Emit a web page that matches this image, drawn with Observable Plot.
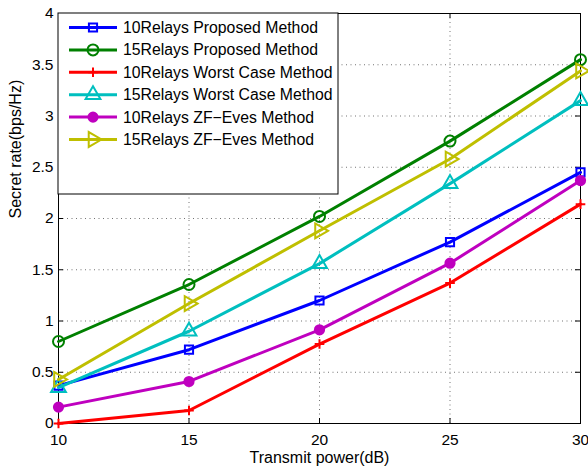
<!DOCTYPE html>
<html>
<head>
<meta charset="utf-8">
<script src="https://cdn.jsdelivr.net/npm/d3@7"></script>
<script src="https://cdn.jsdelivr.net/npm/@observablehq/plot@0.6"></script>
<style>
  html, body { margin: 0; padding: 0; background: white; }
  svg { display: block; }
</style>
</head>
<body>
<div id="chart"></div>
<script>
const powers = [10, 15, 20, 25, 30];
const seriesNames = [
  "10Relays Proposed Method",
  "15Relays Proposed Method",
  "10Relays Worst Case Method",
  "15Relays Worst Case Method",
  "10Relays ZF\u2212Eves Method",
  "15Relays ZF\u2212Eves Method"
];
const relays10Proposed = [0.37, 0.72, 1.20, 1.77, 2.45];
const relays15Proposed = [0.80, 1.356, 2.02, 2.755, 3.55];
const relays10Worst = [0.00, 0.127, 0.775, 1.37, 2.14];
const relays15Worst = [0.35, 0.90, 1.56, 2.34, 3.15];
const relays10ZF = [0.16, 0.41, 0.914, 1.564, 2.37];
const relays15ZF = [0.43, 1.17, 1.88, 2.58, 3.44];
const seriesValues = [relays10Proposed, relays15Proposed, relays10Worst, relays15Worst, relays10ZF, relays15ZF];
const colors = ["#0000ff", "#008000", "#ff0000", "#00bfbf", "#bf00bf", "#bfbf00"];
const symbols = ["square", "circle", "plus", "triangle", "circle", "triangle"];
const filled = [false, false, false, false, true, false];
const rotations = [0, 0, 0, 0, 0, 90];
const radii = [4.6, 5.5, 3.2, 5.5, 4.6, 5.5];
const xTicks = [10, 15, 20, 25, 30];
const yTicks = [0, 0.5, 1, 1.5, 2, 2.5, 3, 3.5, 4];
const xLabel = "Transmit power(dB)";
const yLabel = "Secret rate(bps/Hz)";

const rows = seriesNames.map((name, i) => powers.map((p, j) => ({series: i, name, x: p, y: seriesValues[i][j]})));

const d3Symbols = {square: d3.symbolSquare, circle: d3.symbolCircle, plus: d3.symbolPlus, triangle: d3.symbolTriangle};

function legendMark(index, scales, values, dimensions) {
  const g = d3.create("svg:g");
  const left = dimensions.marginLeft;
  const top = dimensions.marginTop;
  const w = 280, h = 181, rowH = 22.4;
  g.append("rect").attr("x", left).attr("y", top).attr("width", w).attr("height", h)
    .attr("fill", "white").attr("stroke", "black").attr("stroke-width", 1);
  seriesNames.forEach((name, i) => {
    const cy = top + 14.5 + i * rowH;
    g.append("line").attr("x1", left + 11).attr("x2", left + 59).attr("y1", cy).attr("y2", cy)
      .attr("stroke", colors[i]).attr("stroke-width", 3);
    g.append("path")
      .attr("d", d3.symbol(d3Symbols[symbols[i]], Math.PI * radii[i] * radii[i])())
      .attr("transform", `translate(${left + 35},${cy}) rotate(${rotations[i]})`)
      .attr("fill", filled[i] ? colors[i] : "none")
      .attr("stroke", colors[i]).attr("stroke-width", 2);
    g.append("text").attr("x", left + 65).attr("y", cy).attr("dy", "0.35em")
      .attr("text-anchor", "start")
      .attr("fill", "black").attr("font-size", 15.8).text(name);
  });
  return g.node();
}

const marks = [
  Plot.gridX(xTicks, {stroke: "#000", strokeOpacity: 0.55, strokeDasharray: "1,3.5", strokeWidth: 1}),
  Plot.gridY(yTicks, {stroke: "#000", strokeOpacity: 0.55, strokeDasharray: "1,3.5", strokeWidth: 1}),
  Plot.tickX(xTicks, {x: d => d, insetTop: 405, stroke: "black"}),
  Plot.tickX(xTicks, {x: d => d, insetBottom: 405, stroke: "black"}),
  Plot.tickY(yTicks, {y: d => d, insetRight: 517, stroke: "black"}),
  Plot.tickY(yTicks, {y: d => d, insetLeft: 517, stroke: "black"}),
  Plot.frame({stroke: "black", strokeWidth: 1}),
  Plot.axisX(xTicks, {tickSize: 0, tickPadding: 10, label: null, fontSize: 15.5}),
  Plot.axisY(yTicks, {tickSize: 0, tickPadding: 5, label: null, fontSize: 15.5, tickFormat: d => String(d)}),
  Plot.text([xLabel], {frameAnchor: "bottom", dy: 34, fontSize: 16, lineAnchor: "middle"}),
  Plot.text([yLabel], {frameAnchor: "left", dx: -43, rotate: -90, fontSize: 16, lineAnchor: "middle"})
];
rows.forEach((data, i) => {
  marks.push(Plot.line(data, {x: "x", y: "y", stroke: colors[i], strokeWidth: 3}));
  marks.push(Plot.dot(data, {
    x: "x", y: "y", symbol: () => symbols[i], r: radii[i], rotate: rotations[i],
    stroke: colors[i], strokeWidth: 2, fill: filled[i] ? colors[i] : "none"
  }));
});
marks.push(legendMark);

const chart = Plot.plot({
  width: 588,
  height: 468,
  marginLeft: 58,
  marginRight: 8,
  marginTop: 13,
  marginBottom: 45,
  x: {domain: [10, 30]},
  y: {domain: [0, 4]},
  style: {fontFamily: "'Liberation Sans', Arial, Helvetica, sans-serif", fontSize: "16px", background: "white", color: "black", overflow: "visible"},
  marks
});
document.getElementById("chart").appendChild(chart);
</script>
</body>
</html>
